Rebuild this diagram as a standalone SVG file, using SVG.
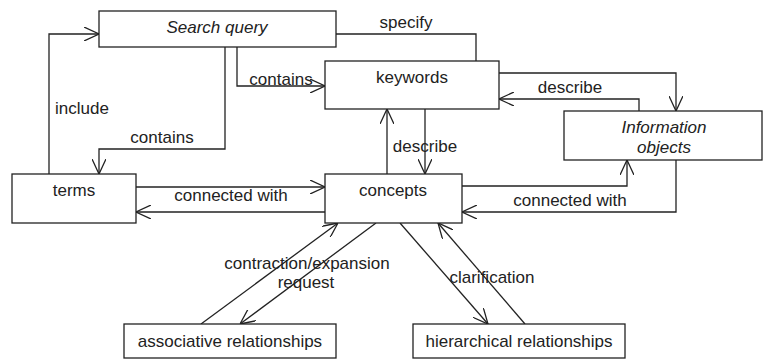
<svg xmlns="http://www.w3.org/2000/svg" width="763" height="360" viewBox="0 0 763 360">
<style>
.box{fill:#fff;stroke:#222;stroke-width:1.3}
.t{font-family:"Liberation Sans",Arial,sans-serif;font-size:17px;fill:#222;text-anchor:middle}
.i{font-style:italic}
.c{fill:none;stroke:#222;stroke-width:1.3}
</style>
<defs>
<marker id="a" viewBox="0 0 15 14" refX="15" refY="7" markerWidth="15" markerHeight="14" markerUnits="userSpaceOnUse" orient="auto">
<path d="M0,0 L15,7 L0,14" fill="none" stroke="#222" stroke-width="1.3"/>
</marker>
</defs>
<rect width="763" height="360" fill="#fff"/>
<g id="connectors">
<path class="c" d="M49,174 V34 H99" marker-end="url(#a)"/>
<path class="c" d="M225,47 V149 H99 V174" marker-end="url(#a)"/>
<path class="c" d="M237,47 V86 H325" marker-end="url(#a)"/>
<path class="c" d="M336,34 H476 V61"/>
<path class="c" d="M499,73 H676 V111" marker-end="url(#a)"/>
<path class="c" d="M639,111 V99 H499" marker-end="url(#a)"/>
<path class="c" d="M425,109 V174" marker-end="url(#a)"/>
<path class="c" d="M387,174 V109" marker-end="url(#a)"/>
<path class="c" d="M136,187 H325" marker-end="url(#a)"/>
<path class="c" d="M325,212 H136" marker-end="url(#a)"/>
<path class="c" d="M462,186 H627 V160" marker-end="url(#a)"/>
<path class="c" d="M676,160 V212 H462" marker-end="url(#a)"/>
<path class="c" d="M201,324 L338,223" marker-end="url(#a)"/>
<path class="c" d="M376,223 L240,324" marker-end="url(#a)"/>
<path class="c" d="M400,223 L488,324" marker-end="url(#a)"/>
<path class="c" d="M525,324 L438,223" marker-end="url(#a)"/>
<text class="t" x="82" y="114">include</text>
<text class="t" x="162" y="143">contains</text>
<text class="t" x="281" y="85">contains</text>
<text class="t" x="406" y="28">specify</text>
<text class="t" x="570" y="93">describe</text>
<text class="t" x="425" y="152">describe</text>
<text class="t" x="231" y="201">connected with</text>
<text class="t" x="570" y="206">connected with</text>
<text class="t" x="307" y="269">contraction/expansion</text>
<text class="t" x="306" y="288">request</text>
<text class="t" x="492" y="283">clarification</text>
</g>
<g id="search-query">
<rect class="box" x="99" y="11" width="237" height="36"/>
<text class="t i" x="217" y="33">Search query</text>
</g>
<g id="keywords">
<rect class="box" x="325" y="61" width="174" height="48"/>
<text class="t" x="412" y="83">keywords</text>
</g>
<g id="information-objects">
<rect class="box" x="564" y="111" width="198" height="49"/>
<text class="t i" x="664" y="133">Information</text>
<text class="t i" x="664" y="153">objects</text>
</g>
<g id="terms">
<rect class="box" x="12" y="174" width="124" height="49"/>
<text class="t" x="74" y="196">terms</text>
</g>
<g id="concepts">
<rect class="box" x="325" y="174" width="137" height="49"/>
<text class="t" x="393" y="196">concepts</text>
</g>
<g id="associative-relationships">
<rect class="box" x="124" y="324" width="212" height="34"/>
<text class="t" x="230" y="347">associative relationships</text>
</g>
<g id="hierarchical-relationships">
<rect class="box" x="413" y="324" width="212" height="34"/>
<text class="t" x="519" y="347">hierarchical relationships</text>
</g>
</svg>
